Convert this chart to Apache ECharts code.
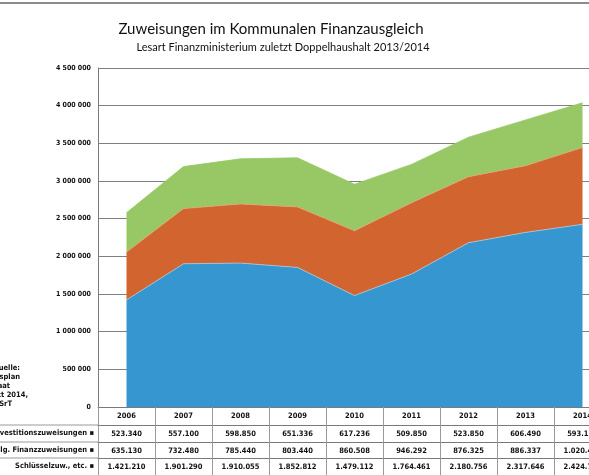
<!DOCTYPE html>
<html lang="de">
<head>
   <meta charset="UTF-8">
   <title>Zuweisungen im Kommunalen Finanzausgleich</title>
   <script src="https://cdn.jsdelivr.net/npm/echarts@6/dist/echarts.min.js"></script>
   <style>
      html, body { margin: 0; padding: 0; background: #fff; }
      #container { width: 589px; height: 475px; }
   </style>
</head>
<body>
   <div id="container"></div>
   <script>
      // Jahre und Werte (aus der Datentabelle unter dem Diagramm)
      var years = ['2006', '2007', '2008', '2009', '2010', '2011', '2012', '2013', '2014'];
      var rowNames = ['Investitionszuweisungen', 'Allg. Finanzzuweisungen', 'Schlüsselzuw., etc.'];
      var investZuw = [523340, 557100, 598850, 651336, 617236, 509850, 523850, 606490, 593150];
      var finanzZuw = [635130, 732480, 785440, 803440, 860508, 946292, 876325, 886337, 1020400];
      var schluesselZuw = [1421210, 1901290, 1910055, 1852812, 1479112, 1764461, 2180756, 2317646, 2424700];
      var yTicks = [0, 500000, 1000000, 1500000, 2000000, 2500000, 3000000, 3500000, 4000000, 4500000];
      var sourceLines = ['Quelle:', 'Haushaltsplan', 'Freistaat', 'Stand Okt 2014,', 'TFM/SrT'];

      var colBlue = '#3696cf';
      var colOrange = '#d2652f';
      var colGreen = '#98c865';
      var narrow = '"Liberation Sans Narrow", "DejaVu Sans Condensed", sans-serif';

      function dots(v) {
         return String(v).replace(/\B(?=(\d{3})+(?!\d))/g, '.');
      }
      function spaces(v) {
         return String(v).replace(/\B(?=(\d{3})+(?!\d))/g, ' ');
      }

      var rowOffsets = [0, 18, 35, 51];
      var rows = [null, investZuw, finanzZuw, schluesselZuw];

      var xAxes = rows.map(function (row, i) {
         return {
            type: 'category',
            data: years,
            position: 'bottom',
            offset: rowOffsets[i],
            boundaryGap: true,
            axisLine: { show: true, lineStyle: { color: '#7a7a7a', width: 1 } },
            axisTick: { show: true, interval: 0, length: i === 0 ? 18 : 17, lineStyle: { color: '#9a9a9a' } },
            axisLabel: {
               interval: 0,
               margin: 5,
               fontSize: 7.5,
               fontWeight: 'bold',
               fontFamily: narrow,
               color: '#111',
               formatter: function (value, idx) {
                  return row ? dots(row[idx]) : value;
               }
            }
         };
      });

      var graphics = [
         { type: 'line', shape: { x1: 0, y1: 3, x2: 589, y2: 3 }, style: { stroke: '#8c8c8c', lineWidth: 2 } }
      ];
      // Zeilenbeschriftung der Datentabelle
      [425, 442, 458].forEach(function (y) {
         graphics.push({ type: 'line', shape: { x1: 0, y1: y, x2: 98, y2: y }, style: { stroke: '#9a9a9a', lineWidth: 1 } });
      });
      [433, 450, 466].forEach(function (y, i) {
         graphics.push({
            type: 'text', x: 94, y: y,
            style: {
               text: rowNames[i] + ' \u25aa', align: 'right', verticalAlign: 'middle',
               fontSize: 7.5, fontWeight: 'bold', fontFamily: narrow, fill: '#111'
            }
         });
      });
      sourceLines.forEach(function (t, i) {
         graphics.push({
            type: 'text', x: [20, 20, 10, 28, 12][i], y: 368 + i * 9,
            style: {
               text: t, align: 'right', verticalAlign: 'middle',
               fontSize: 7.5, fontWeight: 'bold', fontFamily: narrow, fill: '#111'
            }
         });
      });

      var chart = echarts.init(document.getElementById('container'));
      var option = {
         animation: false,
         backgroundColor: '#fff',
         title: [
            {
               text: 'Zuweisungen im Kommunalen Finanzausgleich',
               left: 266, top: 17, textAlign: 'center',
               textStyle: { fontSize: 15, fontWeight: 'normal', fontFamily: 'Lato, sans-serif', color: '#111' }
            },
            {
               text: 'Lesart Finanzministerium zuletzt Doppelhaushalt 2013/2014',
               left: 278, top: 37, textAlign: 'center',
               textStyle: { fontSize: 11, fontWeight: 'normal', fontFamily: 'Lato, sans-serif', color: '#111' }
            }
         ],
         graphic: graphics,
         grid: { left: 98, top: 68, width: 513, height: 339, outerBoundsMode: 'none', containLabel: false },
         xAxis: xAxes,
         yAxis: {
            type: 'value',
            min: 0,
            max: 4500000,
            interval: 500000,
            axisLine: { show: true, lineStyle: { color: '#7a7a7a' } },
            axisTick: { show: false },
            splitLine: { lineStyle: { color: '#7f7f7f', width: 1 } },
            axisLabel: {
               margin: 7,
               fontSize: 7,
               fontWeight: 'bold',
               fontFamily: narrow,
               color: '#111',
               formatter: function (v) {
                  return yTicks.indexOf(v) >= 0 ? spaces(v) : '';
               }
            }
         },
         series: [
            {
               name: rowNames[2], type: 'line', stack: 'sum', data: schluesselZuw,
               symbol: 'none', lineStyle: { width: 0.8, color: '#a9c8e0' },
               areaStyle: { color: colBlue, opacity: 1 }, itemStyle: { color: colBlue }
            },
            {
               name: rowNames[1], type: 'line', stack: 'sum', data: finanzZuw,
               symbol: 'none', lineStyle: { width: 0.8, color: '#e3a070' },
               areaStyle: { color: colOrange, opacity: 1 }, itemStyle: { color: colOrange }
            },
            {
               name: rowNames[0], type: 'line', stack: 'sum', data: investZuw,
               symbol: 'none', lineStyle: { width: 0.8, color: colGreen },
               areaStyle: { color: colGreen, opacity: 1 }, itemStyle: { color: colGreen }
            }
         ]
      };
      chart.setOption(option);
   </script>
</body>
</html>
